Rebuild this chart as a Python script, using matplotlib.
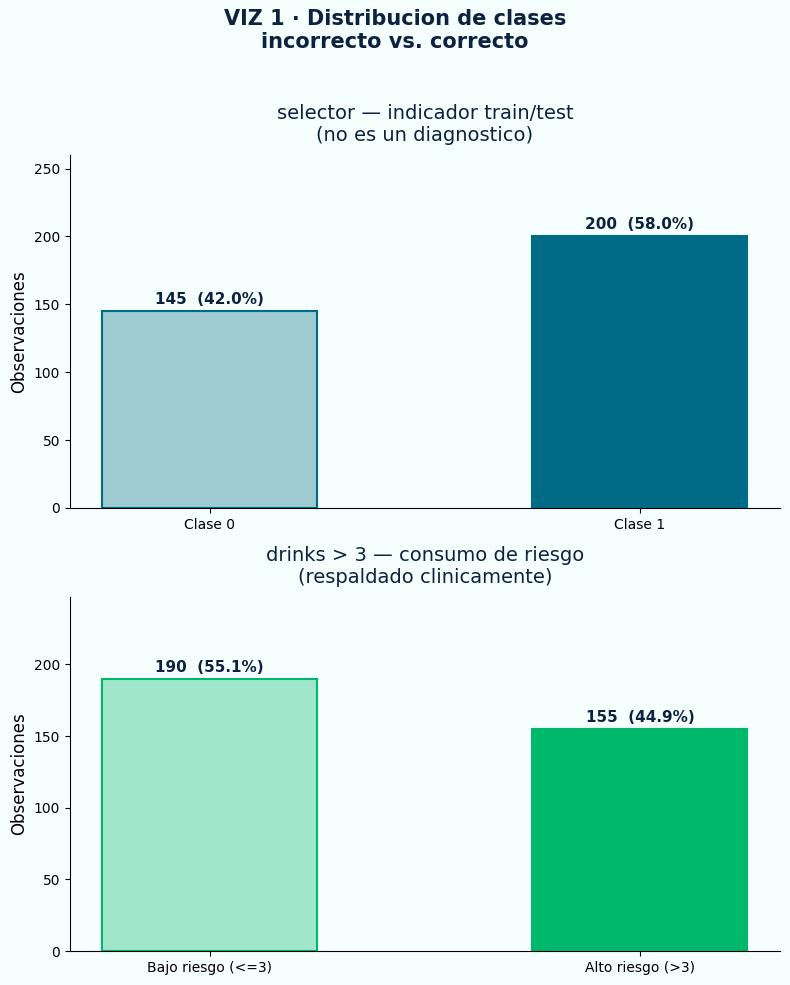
import matplotlib.pyplot as plt

# Datos
etiquetas_sel = ['Clase 0', 'Clase 1']
conteos_sel = [145, 200]
etiquetas_drk = ['Bajo riesgo (<=3)', 'Alto riesgo (>3)']
conteos_drk = [190, 155]

FONDO = '#F5FFFD'
NAVY = '#0D2240'
TEAL = '#006B87'
VERDE = '#00B86B'

fig = plt.figure(figsize=(7.9, 9.85), dpi=100, facecolor=FONDO)
ax1 = fig.add_axes([0.0886, 0.4843, 0.8984, 0.3583])
ax2 = fig.add_axes([0.0886, 0.0345, 0.8984, 0.3594])

fig.suptitle('VIZ 1 · Distribucion de clases\nincorrecto vs. correcto',
             fontsize=15, fontweight='bold', color=NAVY, y=0.991)


def dibujar(ax, etiquetas, conteos, color, titulo):
    ax.set_facecolor(FONDO)
    total = sum(conteos)
    x = range(len(conteos))
    barras = ax.bar(x, conteos, width=0.5,
                    color=[(color, 0.35), color],
                    edgecolor=color, linewidth=1.5)
    for b, c in zip(barras, conteos):
        ax.annotate(f'{c}  ({c / total * 100:.1f}%)',
                    (b.get_x() + b.get_width() / 2, c),
                    xytext=(0, 3), textcoords='offset points',
                    ha='center', va='bottom', fontsize=11,
                    fontweight='bold', color=NAVY)
    ax.set_xticks(list(x))
    ax.set_xticklabels(etiquetas)
    ax.set_ylim(0, max(conteos) * 1.3)
    ax.set_ylabel('Observaciones', fontsize=12)
    ax.set_title(titulo, fontsize=14, color=NAVY, pad=10)
    ax.spines['top'].set_visible(False)
    ax.spines['right'].set_visible(False)


dibujar(ax1, etiquetas_sel, conteos_sel, TEAL,
        'selector — indicador train/test\n(no es un diagnostico)')
dibujar(ax2, etiquetas_drk, conteos_drk, VERDE,
        'drinks > 3 — consumo de riesgo\n(respaldado clinicamente)')

fig.savefig('out.png', dpi=100, facecolor=FONDO)
